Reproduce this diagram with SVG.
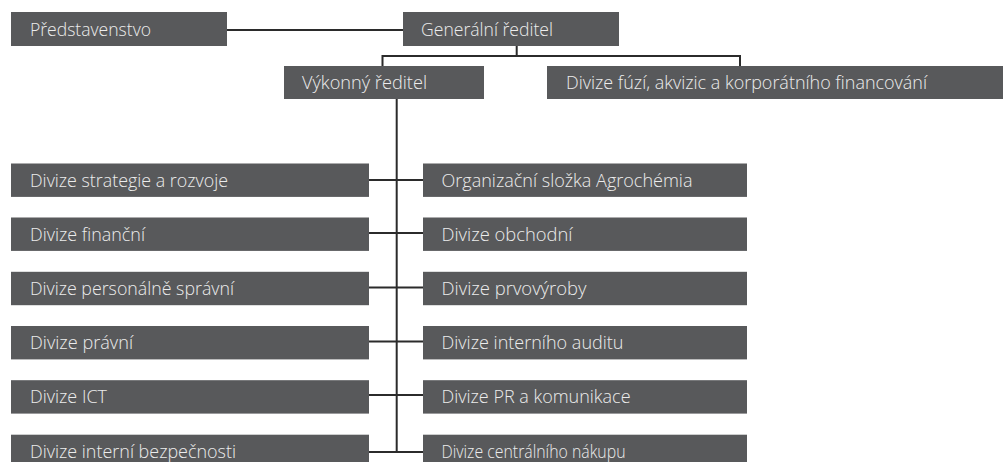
<svg xmlns="http://www.w3.org/2000/svg" width="1003" height="462" viewBox="0 0 1003 462">
<style>
.box{fill:#58595b}
.t{font-family:"Open Sans","Liberation Sans",sans-serif;font-weight:300;font-size:17.5px;fill:#ececec}
.c{stroke:#2b2b2b;stroke-width:2;fill:none}
</style>
<rect width="1003" height="462" fill="#ffffff"/>
<g id="connectors">
<path class="c" d="M227 30 H403"/>
<path class="c" d="M516.7 46 V56 M382.5 56 H740 M382.5 55 V66 M740 55 V66"/>
<path class="c" d="M396.7 99 V452"/>
<path class="c" d="M369 180 H423"/>
<path class="c" d="M369 233 H423"/>
<path class="c" d="M369 287.5 H423"/>
<path class="c" d="M369 341.5 H423"/>
<path class="c" d="M369 395 H423"/>
<path class="c" d="M369 452 H423"/>
</g>
<g id="predstavenstvo"><rect class="box" x="11" y="12" width="216" height="34"/><text class="t" x="30" y="35.5" textLength="121" lengthAdjust="spacingAndGlyphs">Představenstvo</text></g>
<g id="generalni-reditel"><rect class="box" x="403" y="12" width="216" height="34"/><text class="t" x="421" y="35.5" textLength="132" lengthAdjust="spacingAndGlyphs">Generální ředitel</text></g>
<g id="vykonny-reditel"><rect class="box" x="284" y="66" width="200" height="33"/><text class="t" x="302" y="89" textLength="125" lengthAdjust="spacingAndGlyphs">Výkonný ředitel</text></g>
<g id="divize-fuzi"><rect class="box" x="547" y="66" width="456" height="33"/><text class="t" x="566" y="89" textLength="361" lengthAdjust="spacingAndGlyphs">Divize fúzí, akvizic a korporátního financování</text></g>

<g id="divize-strategie"><rect class="box" x="11" y="163.5" width="358" height="33.4"/><text class="t" x="30" y="186.5" textLength="198" lengthAdjust="spacingAndGlyphs">Divize strategie a rozvoje</text></g>
<g id="divize-financni"><rect class="box" x="11" y="217.5" width="358" height="33.4"/><text class="t" x="30" y="240.5" textLength="115" lengthAdjust="spacingAndGlyphs">Divize finanční</text></g>
<g id="divize-personalne"><rect class="box" x="11" y="271.8" width="358" height="33.4"/><text class="t" x="30" y="294.8" textLength="204" lengthAdjust="spacingAndGlyphs">Divize personálně správní</text></g>
<g id="divize-pravni"><rect class="box" x="11" y="326" width="358" height="33.4"/><text class="t" x="30" y="349" textLength="103" lengthAdjust="spacingAndGlyphs">Divize právní</text></g>
<g id="divize-ict"><rect class="box" x="11" y="380.2" width="358" height="33.4"/><text class="t" x="30" y="403.2" textLength="77" lengthAdjust="spacingAndGlyphs">Divize ICT</text></g>
<g id="divize-bezpecnosti"><rect class="box" x="11" y="434.7" width="358" height="33.4"/><text class="t" x="30" y="457.7" textLength="206" lengthAdjust="spacingAndGlyphs">Divize interní bezpečnosti</text></g>

<g id="agrochemia"><rect class="box" x="423" y="163.5" width="324" height="33.4"/><text class="t" x="441.5" y="186.5" textLength="251" lengthAdjust="spacingAndGlyphs">Organizační složka Agrochémia</text></g>
<g id="divize-obchodni"><rect class="box" x="423" y="217.5" width="324" height="33.4"/><text class="t" x="441.5" y="240.5" textLength="131" lengthAdjust="spacingAndGlyphs">Divize obchodní</text></g>
<g id="divize-prvovyroby"><rect class="box" x="423" y="271.8" width="324" height="33.4"/><text class="t" x="441.5" y="294.8" textLength="145" lengthAdjust="spacingAndGlyphs">Divize prvovýroby</text></g>
<g id="divize-auditu"><rect class="box" x="423" y="326" width="324" height="33.4"/><text class="t" x="441.5" y="349" textLength="182" lengthAdjust="spacingAndGlyphs">Divize interního auditu</text></g>
<g id="divize-pr"><rect class="box" x="423" y="380.2" width="324" height="33.4"/><text class="t" x="441.5" y="403.2" textLength="189" lengthAdjust="spacingAndGlyphs">Divize PR a komunikace</text></g>
<g id="divize-nakupu"><rect class="box" x="423" y="434.7" width="324" height="33.4"/><text class="t" x="441.5" y="457.7" textLength="184" lengthAdjust="spacingAndGlyphs">Divize centrálního nákupu</text></g>
</svg>
